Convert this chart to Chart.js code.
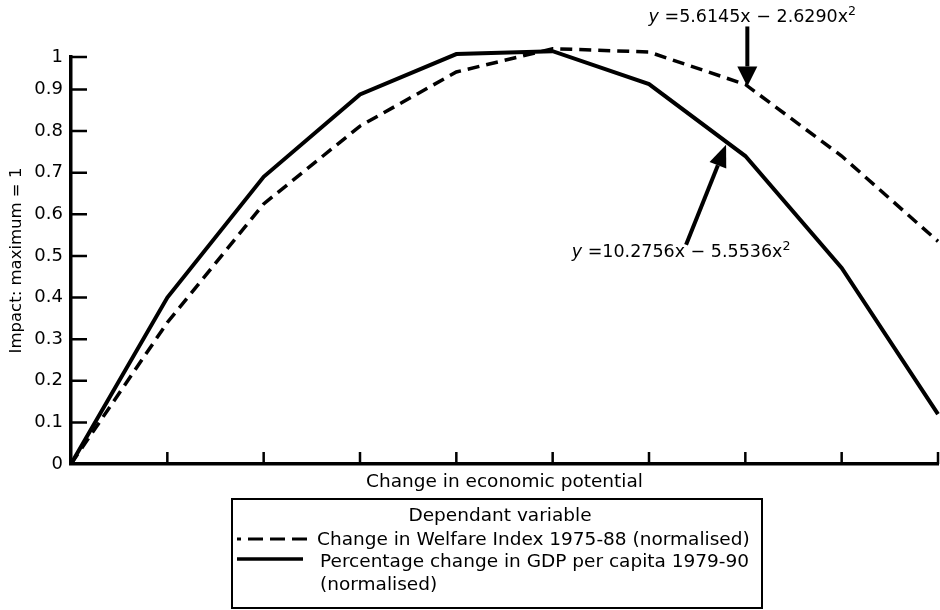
<!DOCTYPE html>
<html>
<head>
<meta charset="utf-8">
<script src="https://cdn.jsdelivr.net/npm/chart.js@4.4.1/dist/chart.umd.min.js"></script>
<style>
  html, body { margin: 0; padding: 0; background: #fff; }
  #wrap { width: 940px; height: 610px; }
</style>
</head>
<body>
<div id="wrap"><canvas id="chart"></canvas></div>
<script>
// Steps of economic potential along the horizontal axis
const xValues = [0, 1, 2, 3, 4, 5, 6, 7, 8, 9];
// Change in Welfare Index 1975-88 (normalised)
const welfareIndex = [0, 0.34, 0.625, 0.812, 0.942, 0.998, 0.99, 0.912, 0.74, 0.535];
// Percentage change in GDP per capita 1979-90 (normalised)
const gdpPerCapita = [0, 0.40, 0.69, 0.888, 0.985, 0.992, 0.913, 0.74, 0.471, 0.12];

// Vertical ticks; the top one marks the normalised maximum
const yTickValues = [0, 0.1, 0.2, 0.3, 0.4, 0.5, 0.6, 0.7, 0.8, 0.9, 0.978];
const yTickLabels = ['0', '0.1', '0.2', '0.3', '0.4', '0.5', '0.6', '0.7', '0.8', '0.9', '1'];
const xTickValues = [1, 2, 3, 4, 5, 6, 7, 8, 9];

const xTitle = 'Change in economic potential';
const yTitle = 'Impact: maximum = 1';
const legendTitle = 'Dependant variable';
const welfareLabel = ['Change in Welfare Index 1975-88 (normalised)'];
const gdpLabel = ['Percentage change in GDP per capita 1979-90', '(normalised)'];

// Fitted quadratics: y = a·x − b·x²
const welfareFit = ['5.6145', '2.6290'];
const gdpFit = ['10.2756', '5.5536'];

const FONT = '"DejaVu Sans"';
Chart.defaults.font.family = FONT;
Chart.defaults.color = '#000';

function drawArrow(ctx, x1, y1, x2, y2, headLen, headHalf) {
  const ang = Math.atan2(y2 - y1, x2 - x1);
  const bx = x2 - headLen * Math.cos(ang);
  const by = y2 - headLen * Math.sin(ang);
  ctx.beginPath();
  ctx.moveTo(x1, y1);
  ctx.lineTo(bx, by);
  ctx.lineWidth = 4;
  ctx.stroke();
  ctx.beginPath();
  ctx.moveTo(x2, y2);
  ctx.lineTo(bx + headHalf * Math.sin(ang), by - headHalf * Math.cos(ang));
  ctx.lineTo(bx - headHalf * Math.sin(ang), by + headHalf * Math.cos(ang));
  ctx.closePath();
  ctx.fill();
}

function drawFit(ctx, coeffs, cx, cy) {
  const size = 17.5;
  const parts = [
    { t: 'y', f: 'oblique ' + size + 'px ' + FONT, dy: 0 },
    { t: ' =' + coeffs[0] + 'x', f: size + 'px ' + FONT, dy: 0 },
    { t: ' \u2212 ', f: size + 'px ' + FONT, dy: 0 },
    { t: coeffs[1] + 'x', f: size + 'px ' + FONT, dy: 0 },
    { t: '2', f: (size * 0.72) + 'px ' + FONT, dy: -6 }
  ];
  let total = 0;
  parts.forEach(p => { ctx.font = p.f; p.w = ctx.measureText(p.t).width; total += p.w; });
  let x = cx - total / 2;
  ctx.textBaseline = 'middle';
  ctx.textAlign = 'left';
  parts.forEach(p => { ctx.font = p.f; ctx.fillText(p.t, x, cy + p.dy); x += p.w; });
}

const decorations = {
  id: 'decorations',
  afterDraw(chart) {
    const { ctx, chartArea, scales: { x, y } } = chart;
    ctx.save();
    ctx.strokeStyle = '#000';
    ctx.fillStyle = '#000';

    // tick marks pointing into the plot
    ctx.lineWidth = 2.5;
    ctx.beginPath();
    xTickValues.forEach(v => {
      const px = x.getPixelForValue(v);
      ctx.moveTo(px, chartArea.bottom);
      ctx.lineTo(px, chartArea.bottom - 12);
    });
    yTickValues.slice(1).forEach(v => {
      const py = y.getPixelForValue(v);
      ctx.moveTo(chartArea.left, py);
      ctx.lineTo(chartArea.left + 16, py);
    });
    ctx.stroke();

    // fitted curve labels with arrows
    const t1x = x.getPixelForValue(7), t1y = y.getPixelForValue(welfareIndex[7]);
    drawArrow(ctx, t1x + 2, t1y - 58, t1x + 2, t1y + 2, 20, 10);
    drawFit(ctx, welfareFit, t1x + 7, t1y - 67);

    const t2x = x.getPixelForValue(6.8), t2y = y.getPixelForValue(0.767);
    drawArrow(ctx, t2x - 40, t2y + 100, t2x, t2y, 22, 9);
    drawFit(ctx, gdpFit, t2x - 45, t2y + 108);

    // legend box
    const bx = 232, by = 499, bw = 530, bh = 109;
    ctx.lineWidth = 2;
    ctx.strokeRect(bx, by, bw, bh);
    ctx.font = '18.5px ' + FONT;
    ctx.textBaseline = 'middle';
    ctx.textAlign = 'center';
    ctx.fillText(legendTitle, bx + bw / 2 + 3, by + 17);

    ctx.lineWidth = 3;
    ctx.setLineDash([15, 7]);
    ctx.beginPath();
    ctx.moveTo(bx + 75, by + 40);
    ctx.lineTo(bx + 5, by + 40);
    ctx.stroke();
    ctx.setLineDash([]);
    ctx.textAlign = 'left';
    ctx.fillText(welfareLabel[0], bx + 85, by + 41);

    ctx.lineWidth = 3.5;
    ctx.beginPath();
    ctx.moveTo(bx + 5, by + 60);
    ctx.lineTo(bx + 71, by + 60);
    ctx.stroke();
    ctx.fillText(gdpLabel[0], bx + 88, by + 63);
    ctx.fillText(gdpLabel[1], bx + 88, by + 86);

    ctx.restore();
  }
};

new Chart(document.getElementById('chart'), {
  type: 'line',
  data: {
    datasets: [
      {
        label: welfareLabel.join(' '),
        data: xValues.map((v, i) => ({ x: v, y: welfareIndex[i] })),
        borderColor: '#000',
        borderWidth: 3.5,
        borderDash: [12, 7],
        pointRadius: 0,
        tension: 0,
        fill: false,
        clip: false
      },
      {
        label: gdpLabel.join(' '),
        data: xValues.map((v, i) => ({ x: v, y: gdpPerCapita[i] })),
        borderColor: '#000',
        borderWidth: 4,
        pointRadius: 0,
        tension: 0,
        fill: false,
        clip: false
      }
    ]
  },
  options: {
    responsive: true,
    maintainAspectRatio: false,
    animation: false,
    events: [],
    layout: { padding: { top: 57, right: 2, left: 0, bottom: 0 } },
    plugins: { legend: { display: false }, tooltip: { enabled: false } },
    scales: {
      x: {
        type: 'linear',
        min: 0,
        max: 9,
        ticks: { display: false },
        grid: { display: false, drawTicks: false },
        border: { display: true, color: '#000', width: 3.5 },
        title: {
          display: true,
          text: xTitle,
          font: { size: 18.5, lineHeight: 1.2 },
          padding: { top: 0, bottom: 117 }
        },
        afterFit: s => { s.height = 146; }
      },
      y: {
        type: 'linear',
        min: 0,
        max: 0.978,
        afterBuildTicks: s => { s.ticks = yTickValues.map(v => ({ value: v })); },
        ticks: {
          autoSkip: false,
          padding: 8,
          font: { size: 18 },
          callback: (v, i) => yTickLabels[i]
        },
        grid: { display: false, drawTicks: false },
        border: { display: true, color: '#000', width: 3.5 },
        title: {
          display: true,
          text: yTitle,
          font: { size: 16.5, lineHeight: 1.2 },
          padding: { top: 7, bottom: 0 }
        },
        afterFit: s => { s.width = 71; }
      }
    }
  },
  plugins: [decorations]
});
</script>
</body>
</html>
